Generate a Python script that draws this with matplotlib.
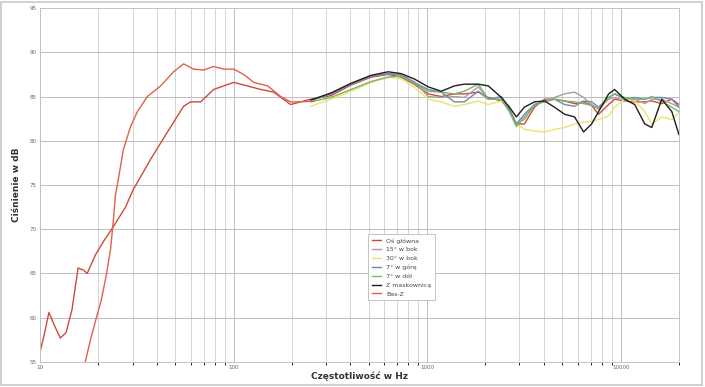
import matplotlib.pyplot as plt
from matplotlib.patches import Rectangle
from matplotlib.ticker import FixedLocator, NullFormatter

# low frequency part
os_low_hz = [10, 10.5, 11.1, 11.8, 12.7, 13.6, 14.6, 15.7, 16.7, 17.5, 19.3, 21.5, 23.6,
             27.6, 30.3, 37.2, 45.5, 55.1, 59.9, 67.5, 78.8, 88.7, 100, 118, 138, 161, 197, 222]
os_low_db = [56.2, 58.1, 60.6, 59.2, 57.7, 58.3, 60.9, 65.6, 65.4, 65.0, 67.1, 68.8, 70.1,
             72.5, 74.5, 77.9, 81.0, 83.9, 84.4, 84.4, 85.8, 86.2, 86.6, 86.2, 85.8, 85.5, 84.1, 84.4]

basz_hz = [17.1, 18.2, 19.3, 20.7, 22.0, 23.1, 23.9, 24.5, 25.1, 26.9, 29.3, 31.8, 35.8, 41.9,
           48.9, 55.1, 62.0, 69.9, 78.8, 88.7, 100, 112.7, 127, 150, 175, 197, 222, 260]
basz_db = [55.0, 57.5, 59.6, 62.0, 64.9, 67.7, 71.1, 73.9, 75.1, 79.0, 81.6, 83.3, 85.0, 86.2,
           87.8, 88.7, 88.1, 88.0, 88.4, 88.1, 88.1, 87.5, 86.6, 86.2, 85.0, 84.4, 84.4, 84.5]

# mid / high part, common frequencies
hf_hz = [250, 318, 404, 513, 628, 733, 856, 1012, 1182, 1380, 1555, 1838, 2071, 2417, 2660,
         2891, 3181, 3585, 4039, 4550, 5126, 5776, 6432, 7076, 7691, 8664, 9309, 10490, 11820,
         13320, 14480, 16310, 18380, 20000]

os_db = [84.7, 85.1, 86.3, 87.2, 87.5, 87.2, 86.4, 85.3, 85.0, 85.3, 85.3, 85.5, 84.9, 84.5, 83.6,
         81.9, 81.9, 83.8, 84.7, 84.7, 84.5, 84.2, 84.4, 84.0, 83.0, 84.1, 84.7, 84.5, 84.4,
         84.4, 84.5, 84.2, 84.7, 84.1]
bok15_db = [84.5, 85.3, 86.4, 87.3, 87.6, 87.5, 86.7, 85.0, 84.9, 85.0, 84.9, 86.1, 84.7, 84.7, 83.3,
            81.9, 82.4, 84.1, 84.5, 84.9, 85.3, 85.5, 84.9, 84.1, 83.6, 84.7, 84.9, 84.5, 84.7,
            84.2, 84.7, 84.7, 84.2, 83.8]
bok30_db = [83.9, 84.7, 85.6, 86.6, 87.2, 87.0, 86.1, 84.7, 84.4, 83.9, 84.1, 84.5, 84.1, 84.5, 83.9,
            81.9, 81.3, 81.1, 81.0, 81.3, 81.5, 81.9, 82.1, 82.2, 82.4, 82.8, 83.8, 84.7, 84.5,
            83.3, 81.9, 82.7, 82.4, 83.2]
gora_db = [84.6, 85.3, 86.4, 87.3, 87.6, 87.4, 86.6, 85.8, 85.5, 84.4, 84.4, 85.6, 84.7, 85.0, 83.6,
           81.9, 83.0, 84.1, 84.4, 84.7, 84.1, 83.9, 84.5, 84.4, 83.8, 84.9, 85.3, 84.7, 84.9,
           84.7, 84.9, 84.9, 84.7, 83.8]
dol_db = [84.4, 84.9, 85.8, 86.7, 87.2, 87.3, 86.5, 85.6, 85.5, 85.3, 85.6, 86.4, 84.7, 84.7, 83.3,
          81.6, 82.7, 84.0, 84.5, 84.7, 84.5, 84.4, 84.2, 84.0, 83.6, 84.9, 85.3, 84.9, 84.7,
          84.7, 85.0, 84.4, 83.8, 83.3]
mask_db = [84.6, 85.4, 86.5, 87.4, 87.8, 87.6, 87.0, 86.1, 85.6, 86.2, 86.4, 86.4, 86.2, 84.9, 83.8,
           82.7, 83.8, 84.4, 84.5, 83.8, 83.0, 82.7, 81.0, 81.9, 83.3, 85.3, 85.8, 84.7, 84.1,
           81.9, 81.5, 84.7, 83.3, 80.7]

x_ticks = [10, 100, 1000, 10000]
x_labels = ['10', '100', '1000', '10000']
y_ticks = [55, 60, 65, 70, 75, 80, 85, 90, 95]

fig = plt.figure(figsize=(7.05, 3.87), dpi=100)
fig.patches.append(Rectangle((0.002, 0.004), 0.994, 0.99, transform=fig.transFigure,
                             fill=False, edgecolor='#c8c8c8', linewidth=1.2))
ax = fig.add_axes([0.057, 0.065, 0.906, 0.914])
ax.set_xscale('log')
ax.set_xlim(10, 20000)
ax.set_ylim(55, 95)

ax.plot(os_low_hz + hf_hz, os_low_db + os_db, color='#cf4a3a', lw=1.0, label='Oś główna')
ax.plot(hf_hz, bok15_db, color='#ad9f98', lw=1.0, label='15° w bok')
ax.plot(hf_hz, bok30_db, color='#ece46a', lw=1.0, label='30° w bok')
ax.plot(hf_hz, gora_db, color='#7488b4', lw=1.0, label='7° w górę')
ax.plot(hf_hz, dol_db, color='#78b46c', lw=1.0, label='7° w dół')
ax.plot(hf_hz, mask_db, color='#1e1e1e', lw=1.0, label='Z maskownicą')
ax.plot(basz_hz, basz_db, color='#e0604e', lw=1.0, label='Bas-Z')

ax.xaxis.set_major_locator(FixedLocator(x_ticks))
ax.set_xticklabels(x_labels)
minor = [m * d for d in [10, 100, 1000, 10000] for m in range(2, 10) if m * d <= 20000]
ax.xaxis.set_minor_locator(FixedLocator(minor))
ax.xaxis.set_minor_formatter(NullFormatter())
ax.set_yticks(y_ticks)
ax.tick_params(labelsize=4, length=0, colors='#666666', pad=2.5)
ax.grid(True, which='major', color='#bdbdbd', lw=0.7)
ax.grid(True, which='minor', axis='x', color='#cfcfcf', lw=0.6)
ax.set_axisbelow(True)
for s in ax.spines.values():
    s.set_color('#c4c4c4')
    s.set_linewidth(0.7)

ax.set_xlabel('Częstotliwość w Hz', fontsize=6.5, fontweight='bold', color='#333333', labelpad=1)
ax.set_ylabel('Ciśnienie w dB', fontsize=6.5, fontweight='bold', color='#333333', labelpad=6)

leg = ax.legend(loc='lower left', bbox_to_anchor=(0.508, 0.165), fontsize=4.5,
                handlelength=1.5, labelspacing=0.55, borderpad=0.6, fancybox=False,
                framealpha=1, edgecolor='#bbbbbb')
leg.get_frame().set_linewidth(0.6)
for t in leg.get_texts():
    t.set_color('#444444')

fig.savefig('out.png', dpi=100)
